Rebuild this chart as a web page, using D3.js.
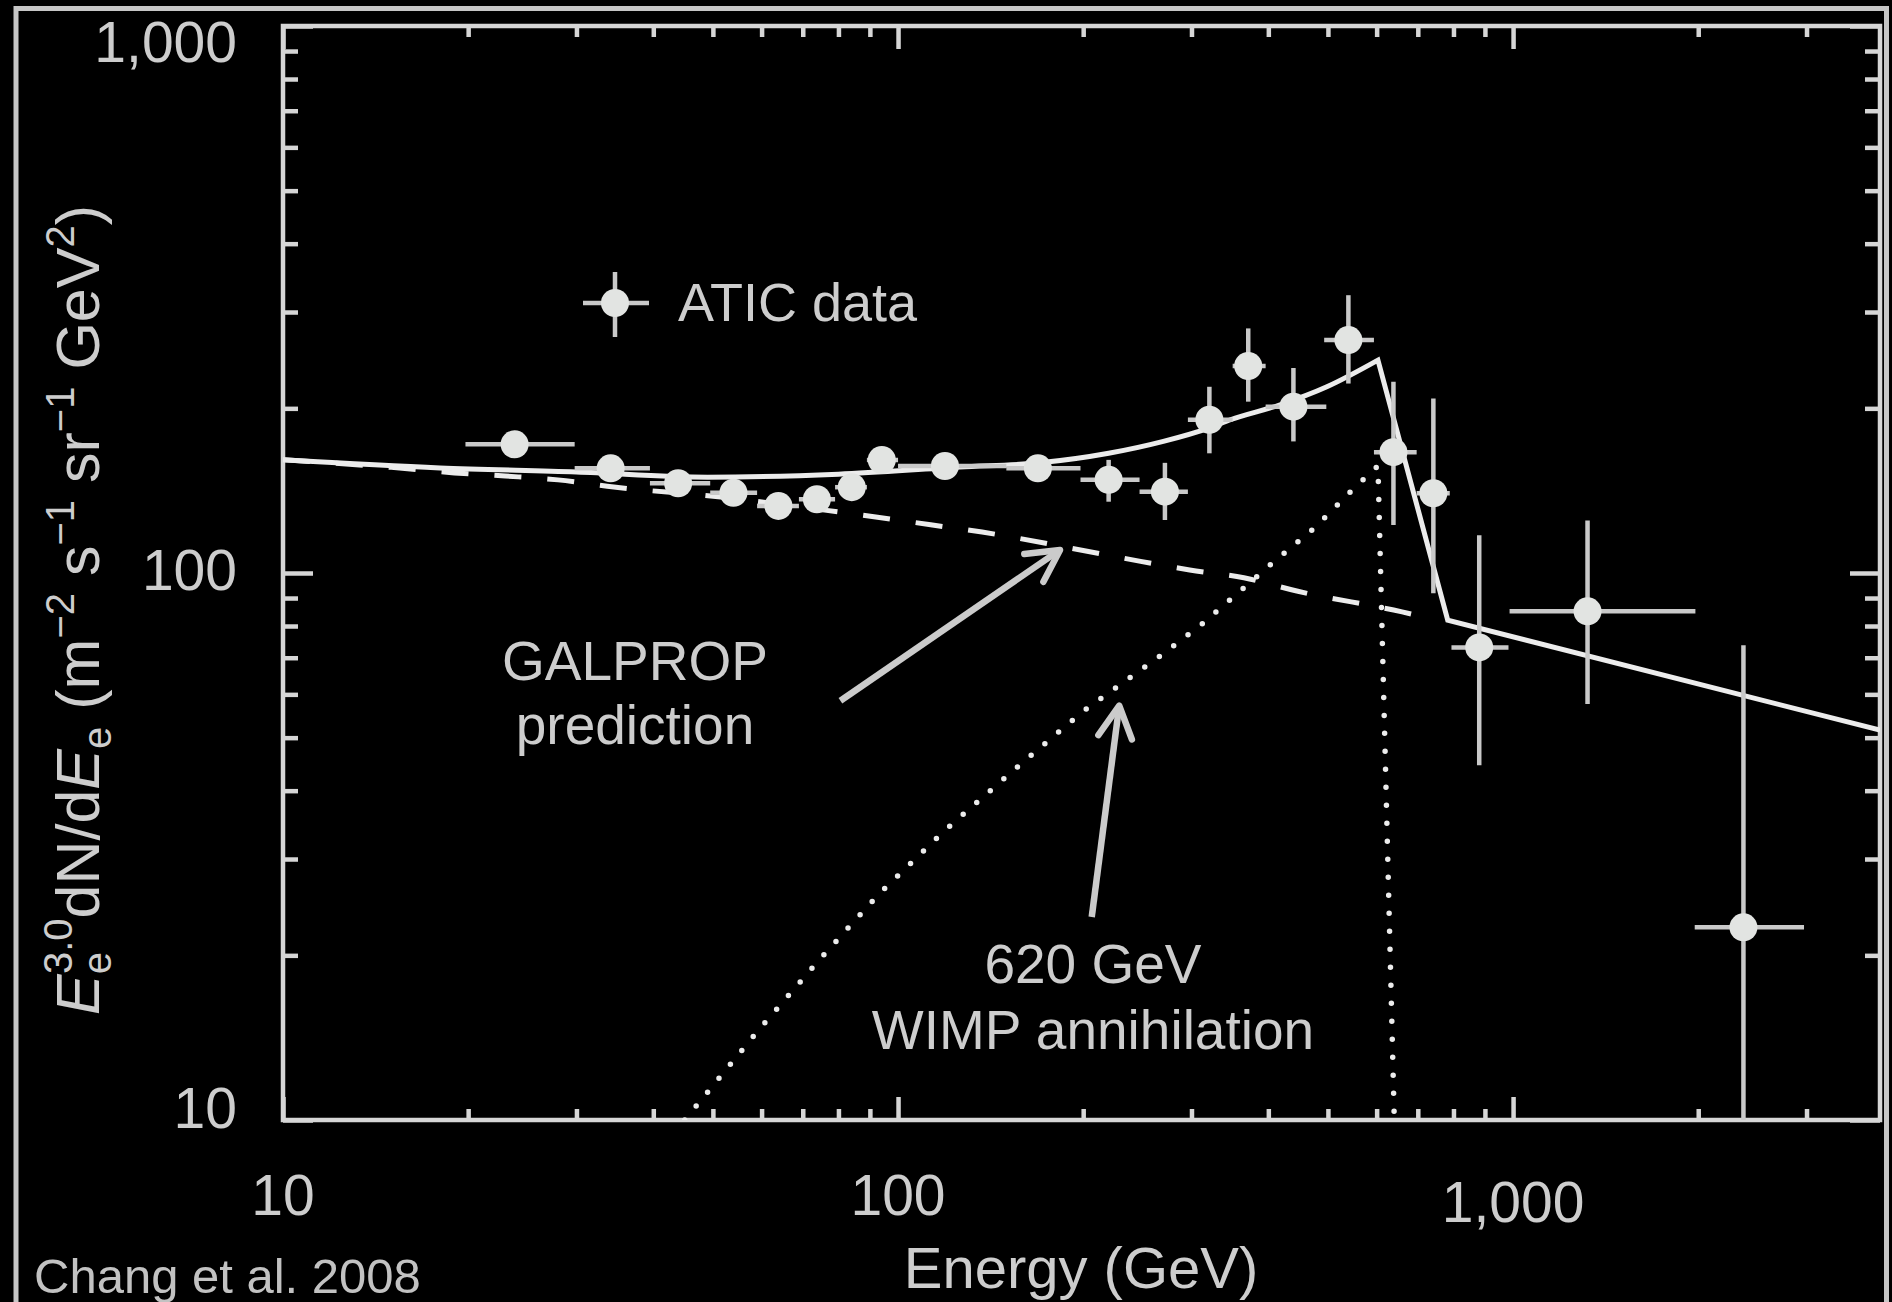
<!DOCTYPE html>
<html>
<head>
<meta charset="utf-8">
<script src="https://cdn.jsdelivr.net/npm/d3@7"></script>
<style>
  html, body { margin: 0; padding: 0; background: #000; }
  svg { display: block; }
  text { font-family: "Liberation Sans", Arial, Helvetica, sans-serif; }
</style>
</head>
<body>
<svg id="chart" width="1892" height="1302"></svg>
<script>
// ATIC electron spectrum, E^3 dN/dE (m^-2 s^-1 sr^-1 GeV^2) versus energy (GeV)
const energy   = [23.8, 34.1, 43.9, 54.0, 63.9, 73.8, 84.1, 94.1, 119.2, 168.8, 220, 271.6, 320.8, 371, 439.4, 539.8, 639, 742, 881, 1321.5, 2369];
const flux     = [171.9, 155.4, 145.9, 140.2, 132.6, 136.4, 143.5, 160.9, 156.9, 155.4, 148, 140.8, 190.6, 239, 201.4, 266.6, 166.3, 139.9, 73.1, 85.1, 22.5];
const fluxLow  = [165, 149, 140, 134, 127, 130, 137, 154, 150, 148, 135, 125, 165.5, 205.7, 174, 222, 122.4, 91.8, 44.5, 57.6, 5];
const fluxHigh = [179, 162, 152, 147, 139, 143, 150, 168, 164, 163, 161, 159, 219, 280, 237, 322, 223.6, 208.5, 117.2, 124.7, 73.8];
const binLow   = [19.8, 29.8, 39.5, 49.5, 59, 69, 79, 89, 100, 150, 198, 247, 296, 350, 396, 493, 594, 697, 794, 987, 1974];
const binHigh  = [29.8, 39.5, 49.5, 59, 69, 79, 89, 100, 150, 198, 247, 296, 350, 396, 497, 594, 697, 789, 983, 1979, 2972];

// GALPROP background prediction (dashed)
const galpropE = [10, 15, 19, 23, 28, 34.5, 51.5, 76, 92, 113, 137, 203, 248, 298, 365, 445, 660, 720];
const galpropV = [161, 156, 152.4, 150.4, 148, 143.6, 137.7, 130.3, 126.6, 122.5, 118.8, 109.6, 105, 101.3, 98, 92.7, 84.9, 83];

// 620 GeV WIMP annihilation signal (dotted)
const wimpE = [45, 59, 73.8, 92.8, 118.3, 153.8, 200, 264, 311, 405, 476, 548, 603, 641];
const wimpV = [10, 14.5, 19.4, 25.8, 33.6, 43.5, 55.9, 69.9, 80.4, 104, 121, 142, 157, 10];

// Sum of background and signal (solid): smooth rise up to the 603 GeV peak,
// then a sharp cut-off and the straight high-energy tail
const totalE = [10, 18, 30, 49, 80, 126, 170, 220, 270, 320, 347, 418, 498, 603];
const totalV = [161, 155.6, 153, 149.7, 151.6, 156.3, 159, 165.5, 174, 184, 190.6, 203, 219, 245];
const tailE  = [783, 3950];
const tailV  = [82, 51.6];

// Axis ticks and labels
const xLabelValues = [10, 100, 1000];
const xLabelText   = ["10", "100", "1,000"];
const yLabelValues = [10, 100, 1000];
const yLabelText   = ["10", "100", "1,000"];

// Annotation arrows, [tailE, tailV, tipE, tipV]
const galpropArrow = [80.6, 58.4, 183.4, 110.2];
const wimpArrow    = [206.5, 23.5, 228.9, 57.2];

(function draw() {
  const svg = d3.select("#chart");
  const W = 1892, H = 1302;
  const pLeft = 283, pRight = 1880, pTop = 26, pBottom = 1120;

  svg.append("rect").attr("width", W).attr("height", H).attr("fill", "#000");

  const x = d3.scaleLog().domain([10, 3950]).range([pLeft, pRight]);
  const y = d3.scaleLog().domain([10, 1000]).range([pBottom, pTop]);

  const textCol = "#cdcdcd";
  const axisCol = "#d6d6d6";
  const lineCol = "#ececec";
  const barCol  = "#c9c9c9";
  const dotCol  = "#e2e4e2";

  // outer panel frame
  svg.append("path")
    .attr("d", `M16,${H + 5} V8.5 H1886.5 V${H + 5}`)
    .attr("fill", "none").attr("stroke", "#c6c6c6").attr("stroke-width", 5);

  // clip region for the plotted marks
  svg.append("clipPath").attr("id", "plotArea")
    .append("rect").attr("x", pLeft).attr("y", pTop)
    .attr("width", pRight - pLeft).attr("height", pBottom - pTop);

  // axes: minor and major ticks drawn inward on all four sides
  const xMinor = x.ticks().filter(v => !xLabelValues.includes(v));
  const yMinor = y.ticks().filter(v => !yLabelValues.includes(v));

  function styleAxis(g) {
    g.select(".domain").remove();
    g.selectAll(".tick line").attr("stroke", axisCol).attr("stroke-width", 4.5);
    g.selectAll(".tick text").remove();
  }
  svg.append("g").attr("transform", `translate(${pLeft},0)`)
    .call(d3.axisLeft(y).tickValues(yMinor).tickSize(-15)).call(styleAxis);
  svg.append("g").attr("transform", `translate(${pLeft},0)`)
    .call(d3.axisLeft(y).tickValues(yLabelValues).tickSize(-30)).call(styleAxis);
  svg.append("g").attr("transform", `translate(${pRight},0)`)
    .call(d3.axisRight(y).tickValues(yMinor).tickSize(-15)).call(styleAxis);
  svg.append("g").attr("transform", `translate(${pRight},0)`)
    .call(d3.axisRight(y).tickValues(yLabelValues).tickSize(-30)).call(styleAxis);
  svg.append("g").attr("transform", `translate(0,${pBottom})`)
    .call(d3.axisBottom(x).tickValues(xMinor).tickSize(-11)).call(styleAxis);
  svg.append("g").attr("transform", `translate(0,${pBottom})`)
    .call(d3.axisBottom(x).tickValues(xLabelValues).tickSize(-23)).call(styleAxis);
  svg.append("g").attr("transform", `translate(0,${pTop})`)
    .call(d3.axisTop(x).tickValues(xMinor).tickSize(-11)).call(styleAxis);
  svg.append("g").attr("transform", `translate(0,${pTop})`)
    .call(d3.axisTop(x).tickValues(xLabelValues).tickSize(-23)).call(styleAxis);

  svg.append("rect")
    .attr("x", pLeft).attr("y", pTop).attr("width", pRight - pLeft).attr("height", pBottom - pTop)
    .attr("fill", "none").attr("stroke", axisCol).attr("stroke-width", 4.5);

  // tick labels
  svg.append("g").selectAll("text").data(yLabelValues).join("text")
    .attr("x", 237)
    .attr("y", v => Math.min(Math.max(y(v) + 17, 62), 1128))
    .attr("text-anchor", "end").attr("font-size", 57).attr("fill", textCol)
    .text((v, i) => yLabelText[i]);

  svg.append("g").selectAll("text").data(xLabelValues).join("text")
    .attr("x", v => x(v))
    .attr("y", v => v >= 1000 ? 1222 : 1215)
    .attr("text-anchor", "middle").attr("font-size", 57).attr("fill", textCol)
    .text((v, i) => xLabelText[i]);

  // axis titles
  svg.append("text")
    .attr("x", 1081).attr("y", 1288)
    .attr("text-anchor", "middle").attr("font-size", 58).attr("fill", textCol)
    .text("Energy (GeV)");

  const yt = svg.append("text")
    .attr("transform", "translate(99,610) rotate(-90)")
    .attr("text-anchor", "middle").attr("font-size", 61).attr("fill", textCol);
  yt.append("tspan").attr("font-style", "italic").text("E");
  yt.append("tspan").attr("font-size", 40).attr("dy", 12).text("e");
  yt.append("tspan").attr("font-size", 40).attr("dx", -22).attr("dy", -39).text("3.0");
  yt.append("tspan").attr("dy", 27).text("dN/d");
  yt.append("tspan").attr("font-style", "italic").text("E");
  yt.append("tspan").attr("font-size", 40).attr("dy", 12).text("e");
  yt.append("tspan").attr("dy", -12).text(" (m");
  yt.append("tspan").attr("font-size", 40).attr("dy", -25).text("\u22122");
  yt.append("tspan").attr("dy", 25).text(" s");
  yt.append("tspan").attr("font-size", 40).attr("dy", -25).text("\u22121");
  yt.append("tspan").attr("dy", 25).text(" sr");
  yt.append("tspan").attr("font-size", 40).attr("dy", -25).text("\u22121");
  yt.append("tspan").attr("dy", 25).text(" GeV");
  yt.append("tspan").attr("font-size", 40).attr("dy", -25).text("2");
  yt.append("tspan").attr("dy", 25).text(")");

  // credit
  svg.append("text")
    .attr("x", 34).attr("y", 1293)
    .attr("font-size", 49).attr("fill", "#c2c2c2")
    .text("Chang et al. 2008");

  // model curves
  const plot = svg.append("g").attr("clip-path", "url(#plotArea)");
  const lineGen = d3.line().x(d => x(d[0])).y(d => y(d[1]));
  const smoothGen = d3.line().x(d => x(d[0])).y(d => y(d[1])).curve(d3.curveMonotoneX);

  plot.append("path")
    .attr("d", smoothGen(galpropE.map((e, i) => [e, galpropV[i]])))
    .attr("fill", "none").attr("stroke", lineCol).attr("stroke-width", 5)
    .attr("stroke-dasharray", "27 26");

  plot.append("path")
    .attr("d", lineGen(wimpE.map((e, i) => [e, wimpV[i]])))
    .attr("fill", "none").attr("stroke", lineCol).attr("stroke-width", 5.5)
    .attr("stroke-linecap", "round").attr("stroke-dasharray", "0 18");

  const totalPath = smoothGen(totalE.map((e, i) => [e, totalV[i]])) +
    tailE.map((e, i) => `L${x(e)},${y(tailV[i])}`).join("");
  plot.append("path")
    .attr("d", totalPath)
    .attr("fill", "none").attr("stroke", lineCol).attr("stroke-width", 5)
    .attr("stroke-linejoin", "miter");

  // ATIC data with error bars
  const pts = energy.map((e, i) => ({
    e, v: flux[i], lo: fluxLow[i], hi: fluxHigh[i], bl: binLow[i], bh: binHigh[i]
  }));
  const bars = plot.append("g").attr("stroke", barCol).attr("stroke-width", 4.5);
  bars.selectAll(".h").data(pts).join("line").attr("class", "h")
    .attr("x1", d => x(d.bl)).attr("x2", d => x(d.bh))
    .attr("y1", d => y(d.v)).attr("y2", d => y(d.v));
  bars.selectAll(".v").data(pts).join("line").attr("class", "v")
    .attr("x1", d => x(d.e)).attr("x2", d => x(d.e))
    .attr("y1", d => y(d.lo)).attr("y2", d => y(d.hi));
  plot.append("g").selectAll("circle").data(pts).join("circle")
    .attr("cx", d => x(d.e)).attr("cy", d => y(d.v)).attr("r", 14)
    .attr("fill", dotCol);

  // legend
  const lg = svg.append("g");
  lg.append("line").attr("x1", 583).attr("x2", 649).attr("y1", 303).attr("y2", 303)
    .attr("stroke", barCol).attr("stroke-width", 4.5);
  lg.append("line").attr("x1", 615).attr("x2", 615).attr("y1", 272).attr("y2", 337)
    .attr("stroke", barCol).attr("stroke-width", 4.5);
  lg.append("circle").attr("cx", 615).attr("cy", 303).attr("r", 14).attr("fill", dotCol);
  lg.append("text").attr("x", 678).attr("y", 321)
    .attr("font-size", 54).attr("fill", textCol).text("ATIC data");

  // annotation arrows
  function arrow(a) {
    const x0 = x(a[0]), y0 = y(a[1]), x1 = x(a[2]), y1 = y(a[3]);
    const ang = Math.atan2(y0 - y1, x0 - x1);
    const L = 36, spread = 28 * Math.PI / 180;
    const p1 = [x1 + L * Math.cos(ang + spread), y1 + L * Math.sin(ang + spread)];
    const p2 = [x1 + L * Math.cos(ang - spread), y1 + L * Math.sin(ang - spread)];
    const g = svg.append("g").attr("fill", "none").attr("stroke", "#cbcbcb")
      .attr("stroke-width", 6.5).attr("stroke-linecap", "round").attr("stroke-linejoin", "round");
    g.append("line").attr("x1", x0).attr("y1", y0).attr("x2", x1).attr("y2", y1).attr("stroke-linecap", "butt");
    g.append("path").attr("d", `M${p1[0]},${p1[1]} L${x1},${y1} L${p2[0]},${p2[1]}`);
  }
  arrow(galpropArrow);
  arrow(wimpArrow);

  const note1 = svg.append("text").attr("text-anchor", "middle")
    .attr("font-size", 55).attr("fill", textCol);
  note1.append("tspan").attr("x", 635).attr("y", 680).text("GALPROP");
  note1.append("tspan").attr("x", 635).attr("y", 744).text("prediction");

  const note2 = svg.append("text").attr("text-anchor", "middle")
    .attr("font-size", 55).attr("fill", textCol);
  note2.append("tspan").attr("x", 1093).attr("y", 983).text("620 GeV");
  note2.append("tspan").attr("x", 1093).attr("y", 1049).text("WIMP annihilation");
})();
</script>
</body>
</html>
